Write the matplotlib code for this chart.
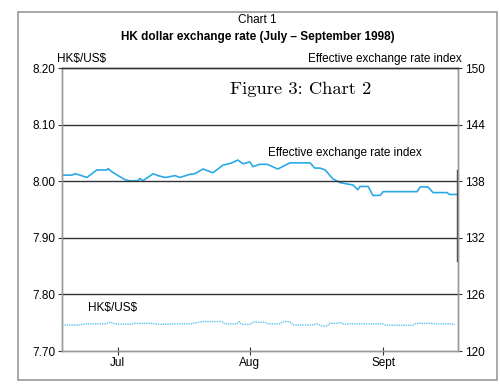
import matplotlib.pyplot as plt
from matplotlib.patches import Rectangle

plt.rcParams['font.family'] = ['Liberation Sans', 'DejaVu Sans']

# day 0 = start of July 1998
eer_days = [0, 2.3, 3.0, 4.2, 5.8, 8.1, 10.5, 10.7, 11.6, 14.7, 15.8, 17.7, 18.1, 18.8,
            21.2, 22.3, 24.0, 26.3, 27.4, 29.8, 30.9, 32.8, 35.1, 37.4, 39.5, 40.9,
            42.1, 43.7, 44.4, 46.0, 47.7, 50.2, 53.0, 57.7, 58.8, 60.0, 61.2, 63.0,
            64.7, 67.7, 68.8, 69.3, 71.2, 72.3, 74.0, 74.7, 82.6, 83.3, 85.1, 86.3,
            89.5, 90.2, 91.9]
eer_vals = [138.65, 138.65, 138.8, 138.65, 138.4, 139.2, 139.2, 139.35, 139.0, 138.15,
            138.05, 138.05, 138.3, 138.05, 138.8, 138.6, 138.4, 138.6, 138.4, 138.75,
            138.8, 139.3, 138.9, 139.7, 139.95, 140.25, 139.85, 140.05, 139.55, 139.8,
            139.8, 139.3, 139.95, 139.95, 139.4, 139.4, 139.2, 138.25, 137.85, 137.6,
            137.1, 137.45, 137.45, 136.5, 136.5, 136.9, 136.9, 137.4, 137.4, 136.8,
            136.8, 136.6, 136.6]

hkd_days = [0, 4.2, 5.3, 10, 11.2, 12.3, 15.8, 17, 20.5, 22.8, 26.3, 29.8, 32.8, 37.2,
            37.9, 40.7, 41.2, 41.9, 43.7, 44.4, 47.2, 47.9, 50.7, 51.4, 53, 53.7, 58.4,
            59.3, 60.5, 61.6, 62.3, 64.2, 64.7, 65.6, 67, 74.7, 75.3, 81.6, 82.3, 86,
            86.7, 90.7, 91.4]
hkd_vals = [7.746, 7.746, 7.748, 7.748, 7.751, 7.748, 7.747, 7.749, 7.749, 7.747, 7.748,
            7.748, 7.752, 7.752, 7.748, 7.748, 7.752, 7.747, 7.747, 7.751, 7.751, 7.748,
            7.748, 7.752, 7.752, 7.746, 7.746, 7.748, 7.744, 7.744, 7.749, 7.749, 7.751,
            7.747, 7.748, 7.748, 7.7455, 7.7455, 7.749, 7.749, 7.748, 7.748, 7.746]

month_pos = [13.0, 43.7, 74.7]
month_labels = ['Jul', 'Aug', 'Sept']
left_ticks = [7.70, 7.80, 7.90, 8.00, 8.10, 8.20]
right_ticks = [120, 126, 132, 138, 144, 150]

fs = 8.5

fig = plt.figure(figsize=(5, 3.87), dpi=100)
fig.patches.append(Rectangle((18 / 500, 1 - 380 / 387), 479 / 500, 368 / 387,
                             transform=fig.transFigure, fill=False,
                             edgecolor='#999999', lw=1.2))

ax = fig.add_axes([0.124, 0.093, 0.792, 0.731])
ax2 = ax.twinx()
ax.set_zorder(ax2.get_zorder() + 1)
ax.patch.set_visible(False)

ax.set_xlim(0, 92.1)
ax.set_ylim(7.70, 8.20)
ax2.set_ylim(120, 150)

for y in left_ticks[1:-1]:
    ax.axhline(y, color='#333333', lw=1.0, zorder=1)

ax2.plot(eer_days, eer_vals, color='#2aa9e6', lw=1.2)
ax.plot(hkd_days, hkd_vals, color='#5cc4f2', lw=1.0, ls=(0, (1, 0.7)), zorder=3)
# darker stroke on right edge, as in the source
ax.axvline(91.85, ymin=0.318, ymax=0.64, color='#444444', lw=1.0)

ax.set_yticks(left_ticks)
ax.set_yticklabels(['%.2f' % v for v in left_ticks])
ax2.set_yticks(right_ticks)
ax.set_xticks(month_pos)
ax.set_xticklabels(month_labels)

ax.tick_params(axis='y', length=3, width=0.8, color='#333333', labelsize=fs, pad=2)
ax2.tick_params(axis='y', length=3, width=0.8, color='#333333', labelsize=fs, pad=2)
ax.tick_params(axis='x', direction='inout', length=6, width=0.8, color='#333333',
               labelsize=fs, pad=1)

for a in (ax, ax2):
    a.spines['left'].set_color('#999999')
    a.spines['right'].set_color('#999999')
    a.spines['bottom'].set_color('#999999')
    a.spines['top'].set_color('#333333')
    for s in a.spines.values():
        s.set_linewidth(1.0)

ax.text(-0.012, 1.012, 'HK\\$/US\\$', transform=ax.transAxes, fontsize=fs, ha='left', va='bottom')
ax2.text(1.01, 1.012, 'Effective exchange rate index', transform=ax.transAxes,
         fontsize=fs, ha='right', va='bottom')
ax.text(0.065, 0.13, 'HK\\$/US\\$', transform=ax.transAxes, fontsize=fs, ha='left', va='bottom')
ax.text(0.52, 0.68, 'Effective exchange rate index', transform=ax.transAxes,
        fontsize=fs, ha='left', va='bottom')
ax.text(0.425, 0.925, 'Figure 3: Chart 2', transform=ax.transAxes, fontsize=13.4,
        family='cmr10', ha='left', va='center')

fig.text(0.514, 1 - 20 / 387, 'Chart 1', fontsize=fs, ha='center', va='center')
fig.text(0.516, 1 - 37 / 387, 'HK dollar exchange rate (July \u2013 September 1998)',
         fontsize=fs, fontweight='bold', ha='center', va='center')

fig.savefig('out.png', dpi=100)
